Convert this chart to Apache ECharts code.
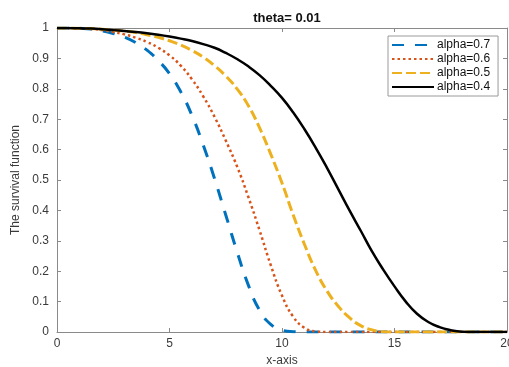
<!DOCTYPE html>
<html>
<head>
<meta charset="utf-8">
<script src="https://cdn.jsdelivr.net/npm/echarts@6/dist/echarts.min.js"></script>
<style>html,body{margin:0;padding:0;background:#fff;}#c{width:509px;height:367px;}</style>
</head>
<body>
<div id="c"></div>
<script>
const xs = [0,0.5,1,1.5,2,2.5,3,3.5,4,4.5,5,5.5,6,6.5,7,7.5,8,8.5,9,9.5,10,10.5,11,11.5,12,12.5,13,13.5,14,14.5,15,15.5,16,16.5,17,17.5,18,18.5,19,19.5,20];
const alpha07 = [1,1,0.999,0.997,0.991,0.982,0.97,0.952,0.927,0.893,0.85,0.79,0.712,0.615,0.505,0.385,0.265,0.155,0.072,0.025,0.006,0.001,0,0,0,0,0,0,0,0,0,0,0,0,0,0,0,0,0,0,0];
const alpha06 = [1,1,0.999,0.997,0.993,0.987,0.979,0.968,0.954,0.935,0.91,0.876,0.831,0.775,0.708,0.63,0.545,0.445,0.335,0.22,0.12,0.05,0.014,0.002,0,0,0,0,0,0,0,0,0,0,0,0,0,0,0,0,0];
const alpha05 = [1,1,0.999,0.998,0.996,0.993,0.99,0.985,0.978,0.969,0.958,0.944,0.926,0.904,0.876,0.842,0.8,0.745,0.672,0.585,0.49,0.385,0.288,0.202,0.135,0.085,0.047,0.021,0.007,0.001,0,0,0,0,0,0,0,0,0,0,0];
const alpha04 = [1,1,0.999,0.998,0.996,0.993,0.99,0.987,0.983,0.978,0.972,0.965,0.957,0.947,0.935,0.918,0.898,0.874,0.845,0.81,0.77,0.722,0.667,0.606,0.54,0.47,0.4,0.333,0.265,0.205,0.15,0.1,0.06,0.033,0.016,0.006,0.001,0,0,0,0];
const seriesNames = ['alpha=0.7','alpha=0.6','alpha=0.5','alpha=0.4'];
const xTicks = [0,5,10,15,20];
const yTicks = [0,0.1,0.2,0.3,0.4,0.5,0.6,0.7,0.8,0.9,1];

const pairs = arr => xs.map((x,i)=>[x,arr[i]]);
const axisCol = '#8a8a8a';
const labCol = '#3a3a3a';
const chart = echarts.init(document.getElementById('c'), null, {renderer:'canvas'});
const baseX = {
  type:'value', min:0, max:20, interval:5,
  axisLine:{show:true,onZero:false,lineStyle:{color:axisCol,width:1}},
  axisTick:{show:true,inside:true,length:4,lineStyle:{color:axisCol}},
  splitLine:{show:false}
};
const baseY = {
  type:'value', min:0, max:1, interval:0.1,
  axisLine:{show:true,onZero:false,lineStyle:{color:axisCol,width:1}},
  axisTick:{show:true,inside:true,length:4,lineStyle:{color:axisCol}},
  splitLine:{show:false}
};
chart.setOption({
  animation:false,
  backgroundColor:'#fff',
  title:{text:'theta= 0.01',left:282,top:7,textAlign:'center',
    textStyle:{fontFamily:'Liberation Sans',fontSize:13,fontWeight:'bold',color:'#111'}},
  grid:{left:57,right:2,top:28,bottom:35,containLabel:false,outerBoundsMode:'none'},
  xAxis:[
    Object.assign({},baseX,{position:'bottom',name:'x-axis',nameLocation:'middle',nameGap:19,
      nameTextStyle:{fontFamily:'Liberation Sans',fontSize:12,color:labCol},
      axisLabel:{show:true,margin:6,fontFamily:'Liberation Sans',fontSize:12,color:labCol,
        formatter:v=>xTicks.includes(v)?String(v):''}}),
    Object.assign({},baseX,{position:'top',axisLabel:{show:false}})
  ],
  yAxis:[
    Object.assign({},baseY,{position:'left',name:'The survival function',nameLocation:'middle',nameGap:31,
      nameTextStyle:{fontFamily:'Liberation Sans',fontSize:12,color:labCol},
      axisLabel:{show:true,margin:8,fontFamily:'Liberation Sans',fontSize:12,color:labCol,
        formatter:v=>{const r=Math.round(v*10)/10; return yTicks.includes(r)?String(r):'';}}}),
    Object.assign({},baseY,{position:'right',axisLabel:{show:false}})
  ],
  legend:{
    orient:'vertical',left:388,top:36,
    backgroundColor:'#fff',borderColor:'#9a9a9a',borderWidth:1,borderRadius:0,
    padding:[3,8,3,3],itemGap:2,itemWidth:42,itemHeight:13,
    itemStyle:{opacity:0},
    textStyle:{fontFamily:'Liberation Sans',fontSize:12,color:'#111',padding:[0,0,0,-2]},
    data:seriesNames
  },
  series:[
    {name:seriesNames[0],type:'line',data:pairs(alpha07),symbol:'none',smooth:true,
      lineStyle:{color:'#0072BD',width:3,type:[12,11]},itemStyle:{color:'#0072BD'}},
    {name:seriesNames[1],type:'line',data:pairs(alpha06),symbol:'none',smooth:true,
      lineStyle:{color:'#D95319',width:2.5,type:[2.5,3]},itemStyle:{color:'#D95319'}},
    {name:seriesNames[2],type:'line',data:pairs(alpha05),symbol:'none',smooth:true,
      lineStyle:{color:'#EDB120',width:3,type:[10,4]},itemStyle:{color:'#EDB120'}},
    {name:seriesNames[3],type:'line',data:pairs(alpha04),symbol:'none',smooth:true,
      lineStyle:{color:'#000000',width:2.5},itemStyle:{color:'#000000'}}
  ]
});
</script>
</body>
</html>
